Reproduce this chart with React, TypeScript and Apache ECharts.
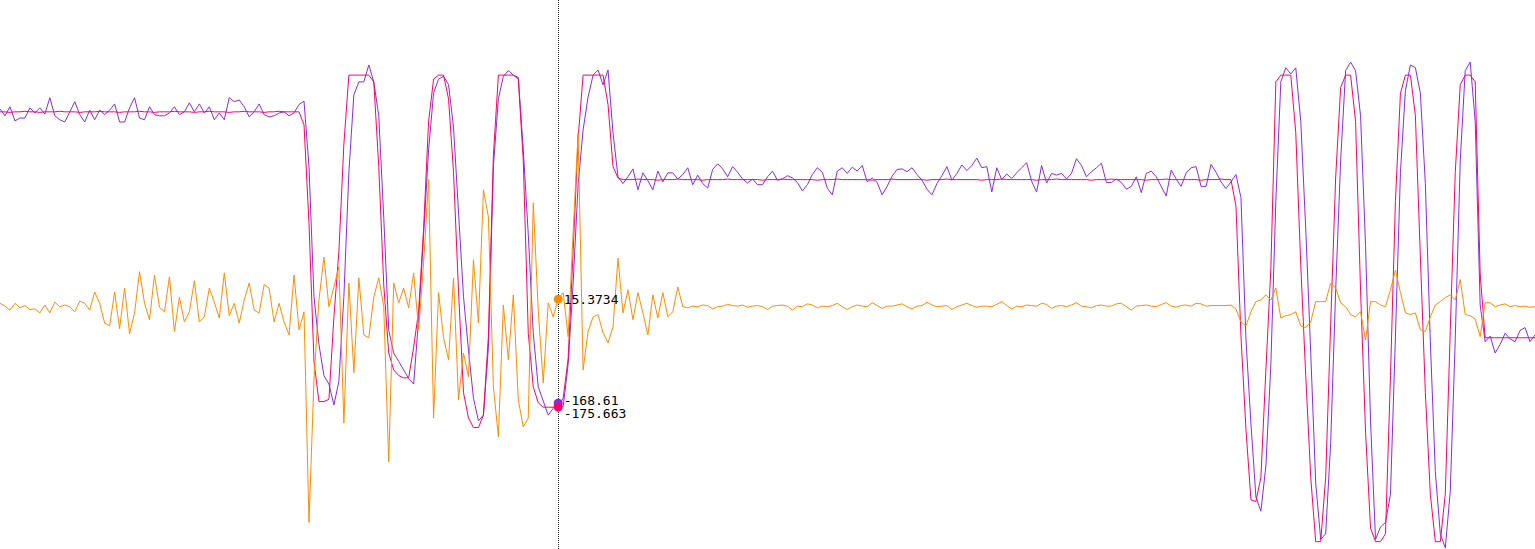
import React, { useEffect, useRef } from "react";
import * as echarts from "echarts";

// sample index axis (309 samples, cursor at sample 112)
const X_MAX = 308;
const CURSOR = 112;
const Y_MIN = -427;
const Y_MAX = 545;

// smooth reference signal (magenta)
const pinkValues = [
  347,347,346,347,347,348,347,347,346,347,
  347,347,348,347,347,347,346,347,347,347,
  348,347,347,347,346,347,347,347,348,347,
  347,346,347,347,347,348,347,347,347,346,
  347,347,348,347,347,347,346,347,347,348,
  347,347,347,346,347,347,348,347,347,347,
  347,324,150,-95,-166,-166,-162,-16,100,290,
  412,412,412,412,412,400,250,40,-80,-110,
  -120,-124,-124,-70,-5,140,330,405,412,412,
  370,240,30,-150,-195,-212,-212,-190,-50,270,
  412,412,412,412,405,260,-45,-140,-168,-176,
  -176,-176,-175.663,-160,-90,100,300,412,412,412,
  412,412,360,250,230,227,227,227,228,227,
  227,227,226,227,227,227,228,227,227,227,
  227,226,227,227,227,227,228,227,227,227,
  227,227,227,226,227,227,227,228,227,227,
  227,227,227,227,226,227,227,227,228,227,
  227,227,227,227,227,226,227,227,227,228,
  227,227,227,227,227,227,226,227,227,227,
  228,227,227,227,227,227,227,226,227,227,
  227,228,227,227,227,227,227,227,226,227,
  227,227,228,227,227,227,227,227,227,226,
  227,227,227,228,227,227,227,227,227,227,
  226,227,227,227,228,227,227,227,227,227,
  227,226,227,227,227,228,227,227,180,-50,
  -215,-340,-343,-300,-110,70,400,412,412,412,
  310,75,-120,-300,-414,-414,-300,-30,230,390,
  412,412,330,30,-220,-390,-414,-414,-400,-120,
  190,380,412,412,340,90,-150,-330,-414,-414,
  -330,-40,240,395,412,412,400,60,-53,-53,
  -53,-53,-53,-53,-53,-53,-53,-53,-53,
];

// noisy measured signal (purple)
const purpleValues = [
  352,340,356,331,336,336,354,345,354,343,
  372,340,333,329,347,365,342,329,350,333,
  350,342,350,361,329,329,354,372,336,333,
  356,342,340,340,345,356,342,347,363,347,
  361,345,356,333,345,333,372,365,368,356,
  338,347,361,342,338,340,345,347,340,345,
  360,366,250,20,-65,-120,-135,-172,-130,20,
  240,377,400,400,430,400,340,160,-40,-80,
  -95,-110,-125,-135,-20,130,280,380,405,410,
  395,320,170,20,-75,-160,-200,-190,-70,250,
  370,410,420,412,408,280,130,-45,-140,-165,
  -190,-178,-168.61,-175,-100,44,218,315,373,412,
  421,395,421,310,232,220,232,246,209,239,
  225,209,242,223,239,239,228,236,248,218,
  235,220,212,245,255,246,232,250,240,228,
  221,228,218,218,232,242,226,228,234,230,
  222,207,218,236,248,240,212,200,242,248,
  238,249,242,252,223,230,222,200,215,233,
  245,246,241,248,236,226,210,200,220,234,
  250,226,238,253,243,252,265,248,250,205,
  248,227,237,229,239,248,257,224,205,252,
  221,238,235,238,228,238,264,252,232,241,
  248,256,222,222,228,222,210,215,232,204,
  238,242,232,215,198,244,228,215,239,248,
  250,215,215,254,240,223,211,223,236,195,
  -55,-205,-335,-360,-280,-100,190,400,425,414,
  425,330,140,-80,-310,-410,-400,-240,30,260,
  420,435,420,340,110,-200,-410,-388,-380,-330,
  -50,240,385,430,425,380,220,-60,-290,-400,
  -425,-325,-55,260,420,435,330,5,-60,-50,
  -80,-65,-45,-55,-60,-40,-35,-60,-48,
];

// error signal (orange)
const orangeValues = [
  8,3,-4,8,0,4,-3,-2,-9,5,
  -9,10,2,5,2,-7,12,8,-4,28,
  8,-27,-32,28,-37,35,-46,-9,64,8,
  -21,58,1,-7,55,-42,19,-25,-7,48,
  -25,-16,35,10,-18,62,-14,8,-27,14,
  44,-4,-9,41,35,-25,8,-25,-48,58,
  -39,-7,-380,-127,14,90,2,37,73,-204,
  44,-115,53,-48,-53,19,53,2,-273,44,
  9,35,0,62,-39,80,227,-195,27,-53,
  -92,53,-163,-80,-122,85,-27,209,161,-140,
  -228,5,-92,23,-163,-211,-195,186,-4,-133,
  9,-16,15.3734,27,-51,133,310,-110,-42,-16,
  -12,-44,-62,-34,88,-9,32,-21,27,-9,
  -48,23,-18,27,-16,-7,37,2,0,3,
  2,5,4,-2,2,3,6,4,3,5,
  1,3,4,2,-3,3,4,5,3,-4,
  3,2,7,5,0,3,2,4,8,2,
  -3,2,5,3,2,9,4,-1,3,3,
  5,7,2,-2,3,4,10,5,2,3,
  4,-3,2,5,8,4,1,3,3,2,
  6,11,4,-2,3,2,5,4,3,8,
  6,-1,3,4,2,5,9,3,2,0,
  4,5,3,3,7,8,2,-4,3,4,
  5,3,2,6,9,3,1,4,5,3,
  8,7,3,4,4,4,4,5,-2,-25,
  -32,-7,11,14,23,14,35,-18,-14,-12,
  -7,-32,-35,-25,11,11,11,44,35,9,
  2,-12,-16,-7,-57,11,11,5,2,32,
  67,27,-9,-12,-9,-39,-42,-16,5,11,
  18,23,14,50,-12,-14,-20,-51,9,9,
  2,5,7,2,4,2,3,1,2,
];

const PURPLE = "#8a2be2";
const PINK = "#ff0066";
const ORANGE = "#ff8c00";

function pairs(values: number[]) {
  return values.map((v, i) => [i, v]);
}

function cursorPoint(values: number[], color: string, offsetY: number) {
  const val = values[CURSOR];
  return {
    symbol: "circle",
    symbolSize: 9,
    silent: true,
    itemStyle: { color },
    label: {
      show: true,
      position: "right",
      distance: 1,
      offset: [0, offsetY],
      color: "#000",
      fontFamily: "DejaVu Sans Mono",
      fontSize: 13,
      formatter: () => String(val),
    },
    data: [{ coord: [CURSOR, val], value: val }],
  };
}

export default function App() {
  const ref = useRef<HTMLDivElement>(null);

  useEffect(() => {
    document.body.style.margin = "0";
    if (!ref.current) return;
    const chart = echarts.init(ref.current, undefined, { renderer: "svg" });
    chart.setOption({
      animation: false,
      backgroundColor: "#fff",
      grid: { left: 0, right: 0, top: 0, bottom: 0 },
      xAxis: { type: "value", min: 0, max: X_MAX, show: false },
      yAxis: { type: "value", min: Y_MIN, max: Y_MAX, show: false },
      series: [
        {
          type: "line",
          data: pairs(purpleValues),
          showSymbol: false,
          symbol: "none",
          lineStyle: { width: 1, color: PURPLE },
          itemStyle: { color: PURPLE },
          markPoint: cursorPoint(purpleValues, PURPLE, -3),
        },
        {
          type: "line",
          data: pairs(pinkValues),
          showSymbol: false,
          symbol: "none",
          lineStyle: { width: 1, color: PINK },
          itemStyle: { color: PINK },
          markPoint: cursorPoint(pinkValues, PINK, 6),
        },
        {
          type: "line",
          data: pairs(orangeValues),
          showSymbol: false,
          symbol: "none",
          lineStyle: { width: 1, color: ORANGE },
          itemStyle: { color: ORANGE },
          markPoint: cursorPoint(orangeValues, ORANGE, 0),
          markLine: {
            silent: true,
            symbol: ["none", "none"],
            label: { show: false },
            lineStyle: { type: "dotted", color: "#222", width: 1 },
            data: [{ xAxis: CURSOR }],
          },
        },
      ],
    });
    return () => chart.dispose();
  }, []);

  return <div ref={ref} style={{ width: 1535, height: 549 }} />;
}
